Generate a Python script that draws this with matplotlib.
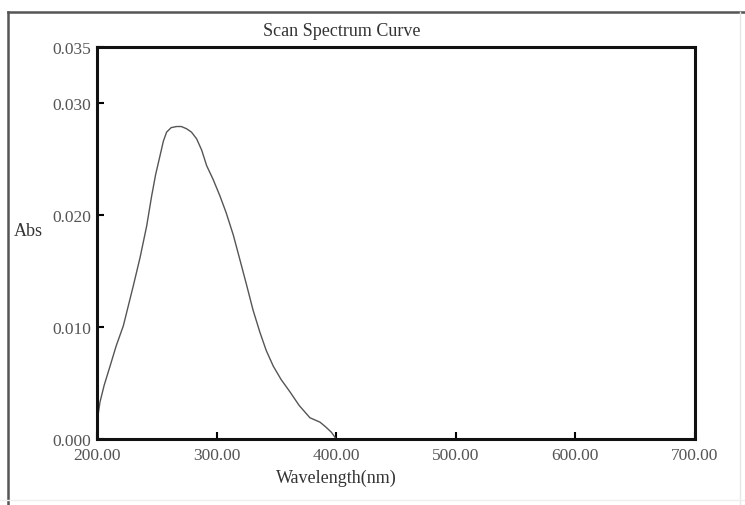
import matplotlib.pyplot as plt
from matplotlib.lines import Line2D

# spectrum
wavelength = [200.0, 202.5, 206.0, 210.9, 216.0, 222.0, 230.4, 236.0, 241.5, 245.7,
              249.0, 252.7, 255.5, 258.2, 262.0, 266.6, 270.5, 274.9, 279.0, 283.3,
              287.5, 291.7, 297.0, 302.8, 308.0, 314.0, 319.5, 325.2, 330.5, 336.3,
              341.5, 347.4, 354.0, 361.4, 369.0, 378.0, 386.5, 391.0, 396.0, 400.0]
absorb = [0.0015, 0.0033, 0.0048, 0.0065, 0.0083, 0.0101, 0.0137, 0.0162, 0.0190, 0.0217,
          0.0236, 0.0253, 0.0266, 0.0274, 0.0278, 0.0279, 0.0279, 0.0277, 0.0274, 0.0268,
          0.0258, 0.0244, 0.0232, 0.0217, 0.0202, 0.0182, 0.0160, 0.0137, 0.0115, 0.0095,
          0.0079, 0.0065, 0.0053, 0.0042, 0.0030, 0.0019, 0.0015, 0.0011, 0.0006, 0.0]

xticks = [200, 300, 400, 500, 600, 700]
yticks = [0.0, 0.010, 0.020, 0.030, 0.035]

plt.rcParams['font.family'] = ['Liberation Serif', 'DejaVu Serif']

fig = plt.figure(figsize=(7.45, 5.06), dpi=100)
W, H = 745.0, 506.0
ax = fig.add_axes([97 / W, 1 - 440 / H, (695 - 97) / W, (440 - 48) / H])

ax.plot(wavelength, absorb, color='#555555', lw=1.0)
ax.set_xlim(200, 700)
ax.set_ylim(0, 0.035)
ax.set_xticks(xticks)
ax.set_xticklabels(['%.2f' % v for v in xticks])
ax.set_yticks(yticks)
ax.set_yticklabels(['%.3f' % v for v in yticks])
ax.tick_params(direction='in', length=5, width=1.5, labelsize=12.5,
               labelcolor='#555555', color='black')
ax.tick_params(axis='x', pad=6)
ax.tick_params(axis='y', pad=4)
for s in ax.spines.values():
    s.set_linewidth(2.2)
    s.set_color('#111111')

fig.text(342 / W, 1 - 31 / H, 'Scan Spectrum Curve', ha='center', va='center',
         fontsize=13, color='#333333')
fig.text(28 / W, 1 - 232 / H, 'Abs', ha='center', va='center',
         fontsize=13, color='#333333')
fig.text(336 / W, 1 - 478 / H, 'Wavelength(nm)', ha='center', va='center',
         fontsize=13, color='#333333')

# outer frame of the scanned figure: dark left/top, faint right/bottom
fx0, fx1 = 8 / W, 740 / W
fy0, fy1 = 1 - 501 / H, 1 - 13 / H
fig.add_artist(Line2D([fx0, fx0], [0, fy1], color='#555555', lw=1.8, transform=fig.transFigure))
fig.add_artist(Line2D([fx0, 1], [fy1, fy1], color='#555555', lw=1.8, transform=fig.transFigure))
fig.add_artist(Line2D([fx1, fx1], [0, fy1], color='#e6e6e6', lw=1.0, transform=fig.transFigure))
fig.add_artist(Line2D([0, 1], [fy0, fy0], color='#eeeeee', lw=1.0, transform=fig.transFigure))

fig.savefig('out.png', dpi=100)
